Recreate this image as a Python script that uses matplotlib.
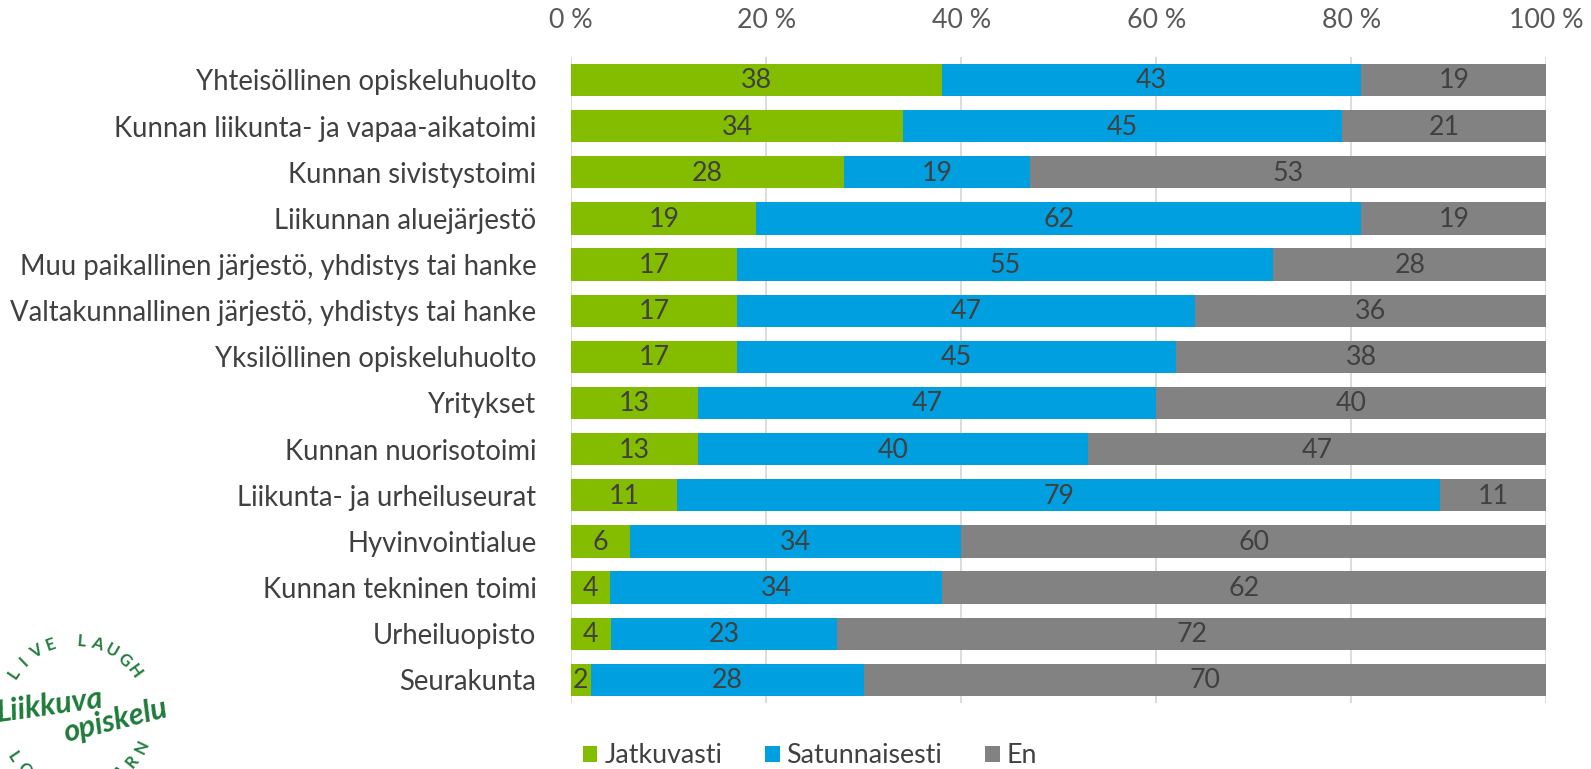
import matplotlib
matplotlib.use("Agg")
import matplotlib.pyplot as plt
import numpy as np

categories = [
    "Yhteisöllinen opiskeluhuolto",
    "Kunnan liikunta- ja vapaa-aikatoimi",
    "Kunnan sivistystoimi",
    "Liikunnan aluejärjestö",
    "Muu paikallinen järjestö, yhdistys tai hanke",
    "Valtakunnallinen järjestö, yhdistys tai hanke",
    "Yksilöllinen opiskeluhuolto",
    "Yritykset",
    "Kunnan nuorisotoimi",
    "Liikunta- ja urheiluseurat",
    "Hyvinvointialue",
    "Kunnan tekninen toimi",
    "Urheiluopisto",
    "Seurakunta",
]
jatkuvasti = [38, 34, 28, 19, 17, 17, 17, 13, 13, 11, 6, 4, 4, 2]
satunnaisesti = [43, 45, 19, 62, 55, 47, 45, 47, 40, 79, 34, 34, 23, 28]
en = [19, 21, 53, 19, 28, 36, 38, 40, 47, 11, 60, 62, 72, 70]
series_names = ["Jatkuvasti", "Satunnaisesti", "En"]
colors = ["#84BD00", "#009FDF", "#828282"]
xticks = [0, 20, 40, 60, 80, 100]
xtick_labels = ["0 %", "20 %", "40 %", "60 %", "80 %", "100 %"]

FONT = "Lato"
plt.rcParams["font.family"] = [FONT, "DejaVu Sans"]
FS = 19.3

fig = plt.figure(figsize=(15.91, 7.69), dpi=100)
ax = fig.add_axes([0.359, 0.086, 0.613, 0.840])

data = np.array([jatkuvasti, satunnaisesti, en], dtype=float)
totals = data.sum(axis=0)
pct = data / totals * 100
y = np.arange(len(categories))
left = np.zeros(len(categories))
for i, name in enumerate(series_names):
    bars = ax.barh(y, pct[i], left=left, height=0.7, color=colors[i], label=name, zorder=3)
    for j, b in enumerate(bars):
        ax.text(left[j] + pct[i][j] / 2, y[j] + 0.02, f"{int(data[i][j])}", ha="center", va="center",
                fontsize=FS, color="#404040", zorder=4)
    left += pct[i]

ax.set_xlim(0, 100)
ax.set_ylim(len(categories) - 0.5, -0.5)
ax.set_yticks(y)
ax.set_yticklabels(categories, fontsize=19.8, color="#404040")
ax.set_xticks(xticks)
ax.set_xticklabels(xtick_labels, fontsize=FS, color="#595959")
ax.xaxis.tick_top()
ax.tick_params(axis="x", length=0, pad=17)
ax.tick_params(axis="y", length=0, pad=25)
for s in ax.spines.values():
    s.set_visible(False)
ax.grid(axis="x", color="#D9D9D9", linewidth=1.3, zorder=0)
ax.set_axisbelow(True)

fig.legend(loc="center", bbox_to_anchor=(0.509, 0.017), ncol=3, frameon=False,
           fontsize=FS, handlelength=0.55, handleheight=0.55, handletextpad=0.25,
           columnspacing=1.6, labelcolor="#404040", borderpad=0, borderaxespad=0)

# Logo approximation
green = "#1E7B3A"
W, H = 1591, 769
cx, cy, r = 75, 715, 74
def put(xp, yp, s, rot, size, **kw):
    fig.text(xp / W, 1 - yp / H, s, rotation=rot, ha="center", va="center", fontsize=size,
             color=green, rotation_mode="anchor", **kw)
top = "LIVE LAUGH"
angs = np.linspace(146, 36, len(top))
for ch, a in zip(top, angs):
    if ch == " ":
        continue
    xr = cx + r * np.cos(np.radians(a))
    yr = cy - r * np.sin(np.radians(a))
    put(xr, yr, ch, a - 90, 12, fontweight="bold")
bot = "LOVE LEARN"
angs = np.linspace(214, 334, len(bot))
for ch, a in zip(bot, angs):
    if ch == " ":
        continue
    xr = cx + r * np.cos(np.radians(a))
    yr = cy - r * np.sin(np.radians(a))
    put(xr, yr, ch, a + 90, 12, fontweight="bold")
put(50, 706, "Liikkuva", 8, 22, fontweight="bold", fontstyle="italic")
put(115, 721, "opiskelu", 14, 22, fontweight="bold", fontstyle="italic")

fig.savefig("out.png", dpi=100)
